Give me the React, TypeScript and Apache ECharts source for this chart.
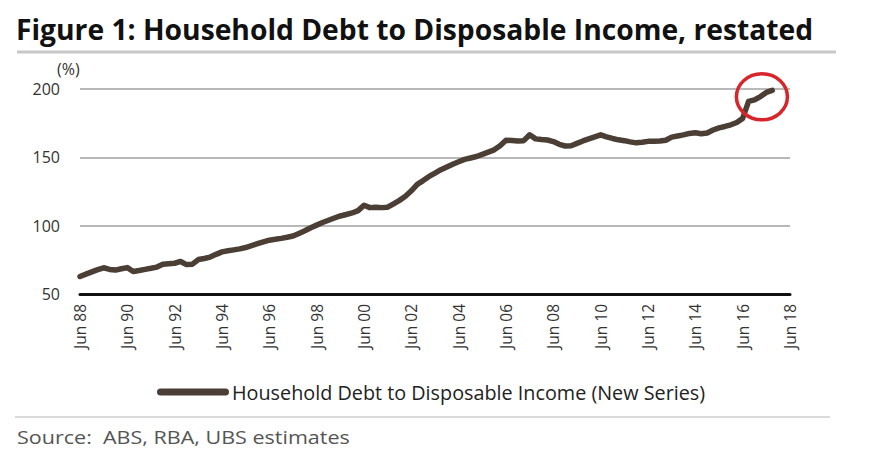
import React, { useEffect, useRef } from "react";
import * as echarts from "echarts";

const TITLE = "Figure 1: Household Debt to Disposable Income, restated";
const SERIES_NAME = "Household Debt to Disposable Income (New Series)";
const SOURCE = "Source:  ABS, RBA, UBS estimates";
const UNIT = "(%)";

const MONTHS = ["Jun", "Sep", "Dec", "Mar"];
const FIRST_YEAR = 1988;
const QUARTER_COUNT = 121; // Jun 88 .. Jun 18

const Y_MIN = 50;
const Y_MAX = 200;
const Y_STEP = 50;

// quarterly values, Jun 88 .. Sep 17
const debtToIncome = [
  62.8, 64.5, 66.2, 67.8, 69.2, 68.0, 67.5, 68.5,
  69.3, 66.5, 67.2, 68.0, 68.8, 69.7, 71.8, 72.2,
  72.5, 73.8, 71.5, 71.8, 75.2, 76.0, 77.0, 79.0,
  80.8, 81.6, 82.3, 83.0, 84.0, 85.4, 86.8, 88.2,
  89.4, 90.0, 90.7, 91.5, 92.4, 94.3, 96.3, 98.5,
  100.4, 102.3, 104.0, 105.6, 107.1, 108.2, 109.3, 111.0,
  115.0, 113.2, 113.4, 113.2, 113.5, 116.0, 118.5, 121.5,
  125.5, 130.2, 133.0, 136.0, 138.5, 141.0, 143.0, 145.0,
  146.8, 148.5, 149.5, 150.6, 152.2, 153.8, 155.5, 158.5,
  162.5, 162.3, 162.0, 162.2, 166.5, 163.5, 163.0, 162.7,
  161.5, 159.5, 158.3, 158.5, 160.2, 162.0, 163.5, 165.0,
  166.5, 165.0, 163.8, 162.8, 162.2, 161.3, 160.6, 161.0,
  161.7, 161.8, 162.0, 162.5, 164.8, 165.6, 166.4, 167.5,
  168.0, 167.3, 167.8, 170.0, 171.6, 172.6, 173.8, 175.5,
  178.5, 190.9, 192.0, 194.5, 197.5, 199.0,
];

// annotation: highlighted point (category index, value)
const HIGHLIGHT_INDEX = 115;
const HIGHLIGHT_VALUE = 195;

function buildCategories(): string[] {
  const out: string[] = [];
  for (let i = 0; i < QUARTER_COUNT; i++) {
    const q = i % 4;
    const yearOffset = Math.floor(i / 4) + (q === 3 ? 1 : 0);
    const yy = String((FIRST_YEAR + yearOffset) % 100).padStart(2, "0");
    out.push(`${MONTHS[q]} ${yy}`);
  }
  return out;
}

const LINE_COLOR = "#4b3e35";
const FONT = "'Open Sans', 'DejaVu Sans', sans-serif";

function measure(text: string, font: string): number {
  const c = document.createElement("canvas");
  const ctx = c.getContext("2d");
  if (!ctx) return 0;
  ctx.font = font;
  return ctx.measureText(text).width;
}

export default function App() {
  const ref = useRef<HTMLDivElement | null>(null);

  useEffect(() => {
    if (!ref.current) return;
    const chart = echarts.init(ref.current, undefined, { renderer: "svg" });
    const categories = buildCategories();

    chart.setOption({
      animation: false,
      backgroundColor: "#ffffff",
      grid: { left: 80, right: 100, top: 89, bottom: 164, containLabel: false },
      legend: {
        left: 152,
        top: 377,
        itemWidth: 72,
        itemHeight: 7,
        itemGap: 10,
        icon: "path://M3.5,0 H68.5 A3.5,3.5 0 0 1 68.5,7 H3.5 A3.5,3.5 0 0 1 3.5,0 Z",
        textStyle: { fontFamily: FONT, fontSize: 19.8, color: "#222222", padding: [0, 0, 0, -2] },
        data: [SERIES_NAME],
      },
      xAxis: {
        type: "category",
        data: categories,
        boundaryGap: false,
        axisLine: { show: true, lineStyle: { color: "#111111", width: 3 } },
        axisTick: { show: false },
        axisLabel: {
          interval: 7,
          rotate: 90,
          margin: 10,
          fontFamily: FONT,
          fontSize: 15.5,
          color: "#333333",
          padding: [0, 0, 8, 0],
        },
        splitLine: { show: false },
      },
      yAxis: {
        type: "value",
        min: Y_MIN,
        max: Y_MAX,
        interval: Y_STEP,
        axisLine: { show: false },
        axisTick: { show: false },
        axisLabel: { margin: 20, fontFamily: FONT, fontSize: 16, color: "#333333" },
        splitLine: { show: true, lineStyle: { color: "#b8b8b8", width: 2 } },
      },
      series: [
        {
          name: SERIES_NAME,
          type: "line",
          data: debtToIncome,
          symbol: "none",
          lineStyle: { color: LINE_COLOR, width: 5.5, cap: "round", join: "round" },
          itemStyle: { color: LINE_COLOR },
          z: 3,
        },
      ],
    });

    const [cx, cy] = chart.convertToPixel({ gridIndex: 0 }, [HIGHLIGHT_INDEX, HIGHLIGHT_VALUE]) as number[];
    const [, topY] = chart.convertToPixel({ gridIndex: 0 }, [0, Y_MAX]) as number[];

    const titleFont = "bold 28px 'Open Sans'";
    const titleW = measure(TITLE, titleFont) || 900;
    const titleScale = 798 / titleW;
    const srcFont = "19px 'Open Sans'";
    const srcW = measure(SOURCE, srcFont) || 330;
    const srcScale = 333 / srcW;

    chart.setOption({
      graphic: [
        {
          type: "text",
          x: 16,
          y: 15,
          scaleX: titleScale,
          style: {
            text: TITLE,
            fontFamily: "'Open Sans', sans-serif",
            fontWeight: "bold",
            fontSize: 28,
            fill: "#111111",
          },
        },
        {
          type: "line",
          shape: { x1: 17, y1: 52, x2: 836, y2: 52 },
          style: { stroke: "#c8c8c8", lineWidth: 3 },
        },
        {
          type: "text",
          left: 57,
          top: topY - 28,
          style: { text: UNIT, fontFamily: FONT, fontSize: 16, fill: "#333333" },
        },
        {
          type: "ellipse",
          shape: { cx: cx + 1.5, cy: cy + 1, rx: 25.5, ry: 23 },
          style: { fill: "none", stroke: "#d7262b", lineWidth: 3.5 },
          z: 10,
        },
        {
          type: "line",
          shape: { x1: 15, y1: 417, x2: 830, y2: 417 },
          style: { stroke: "#d9d9d9", lineWidth: 2 },
        },
        {
          type: "text",
          x: 17,
          y: 427,
          scaleX: srcScale,
          style: { text: SOURCE, fontFamily: "'Open Sans', sans-serif", fontSize: 19, fill: "#555555" },
        },
      ],
    });

    return () => chart.dispose();
  }, []);

  return (
    <div
      ref={ref}
      style={{ position: "absolute", left: 0, top: 0, width: 890, height: 458 }}
    />
  );
}
